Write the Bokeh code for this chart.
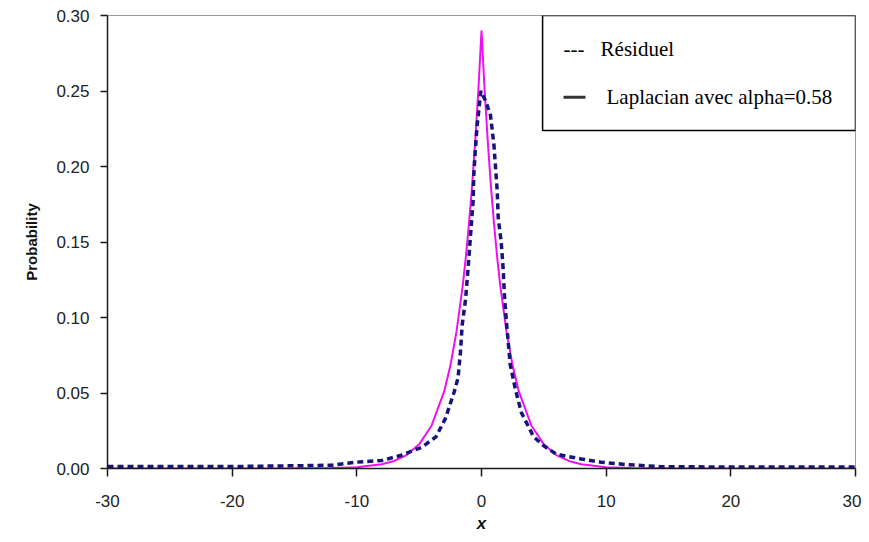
from bokeh.plotting import figure
from bokeh.models import (Range1d, FixedTicker, NumeralTickFormatter, Label, BoxAnnotation)
from bokeh.embed import file_html
from bokeh.resources import INLINE

# ---- data ----
lap_x = [-30, -20, -15, -12, -10, -8, -7, -6, -5, -4, -3, -2.5, -2, -1.5, -1.25, -1, -0.75, -0.5, -0.25, 0,
         0.25, 0.5, 0.75, 1, 1.25, 1.5, 2, 2.5, 3, 4, 5, 6, 7, 8, 10, 12, 15, 20, 30]
lap_y = [0.0, 0.0, 0.0001, 0.0003, 0.0009, 0.0028, 0.005, 0.0089, 0.016, 0.0285, 0.0509, 0.068, 0.0909, 0.1215,
         0.1405, 0.1624, 0.1877, 0.217, 0.2508, 0.29,
         0.2508, 0.217, 0.1877, 0.1624, 0.1405, 0.1215, 0.0909, 0.068, 0.0509, 0.0285, 0.016, 0.0089, 0.005,
         0.0028, 0.0009, 0.0003, 0.0001, 0.0, 0.0]

res_x = [-30, -20, -15, -12, -10, -8, -6.5, -4.8, -3.65, -2.9, -2.2, -1.88, -1.69, -1.55, -1.28, -1.1, -1.0,
         -0.83, -0.67, -0.62, -0.48, -0.35, -0.05, 0.35, 0.72, 1.0, 1.12, 1.26, 1.34, 1.58, 1.74, 1.84, 2.0,
         2.11, 2.3, 2.73, 3.2, 4.18, 5.0, 6.0, 8.0, 9.6, 11.6, 14.4, 20, 30]
res_y = [0.0013, 0.0013, 0.0018, 0.0022, 0.0042, 0.0053, 0.0086, 0.014, 0.021, 0.033, 0.0505, 0.060, 0.077,
         0.095, 0.112, 0.13, 0.141, 0.16, 0.1775, 0.194, 0.2126, 0.227, 0.25, 0.243, 0.234, 0.214, 0.2, 0.184,
         0.166, 0.150, 0.132, 0.1146, 0.097, 0.087, 0.069, 0.052, 0.037, 0.021, 0.015, 0.0095, 0.0063, 0.0042,
         0.0026, 0.0012, 0.0010, 0.0010]

x_ticks = [-30, -20, -10, 0, 10, 20, 30]
y_ticks = [0.0, 0.05, 0.10, 0.15, 0.20, 0.25, 0.30]
legend_labels = ["Résiduel", "Laplacian avec alpha=0.58"]

p = figure(width=861, height=540, output_backend="svg", toolbar_location=None,
           x_range=Range1d(-30, 30), y_range=Range1d(0, 0.30),
           min_border_left=107, min_border_right=6, min_border_top=15, min_border_bottom=72)

p.xgrid.visible = False
p.ygrid.visible = False
p.outline_line_color = "#9a9a9a"
p.outline_line_width = 1
p.background_fill_color = "white"

p.line(lap_x, lap_y, line_color="#ee10ee", line_width=2)
p.line(res_x, res_y, line_color="#14147a", line_width=3.5, line_dash="6 4")

for ax in (p.xaxis[0], p.yaxis[0]):
    ax.axis_line_color = "#1a1a1a"
    ax.axis_line_width = 1.5
    ax.major_tick_line_color = "#1a1a1a"
    ax.major_tick_line_width = 1.5
    ax.major_tick_in = 0
    ax.major_tick_out = 8
    ax.minor_tick_line_color = None
    ax.major_label_text_font = "Liberation Sans"
    ax.major_label_text_font_size = "17px"
    ax.major_label_text_color = "#222222"
    ax.axis_label_text_font = "Liberation Sans"
    ax.axis_label_text_font_style = "bold"
    ax.axis_label_text_color = "#111111"

p.xaxis.ticker = FixedTicker(ticks=x_ticks)
p.yaxis.ticker = FixedTicker(ticks=y_ticks)
p.xaxis.formatter = NumeralTickFormatter(format="0")
p.yaxis.formatter = NumeralTickFormatter(format="0.00")
p.xaxis.major_label_standoff = 18
p.yaxis.major_label_standoff = 11
p.yaxis.major_tick_out = 7

p.xaxis.axis_label = "x"
p.xaxis.axis_label_text_font_style = "bold italic"
p.xaxis.axis_label_text_font_size = "17px"
p.xaxis.axis_label_standoff = 4
p.yaxis.axis_label = "Probability"
p.yaxis.axis_label_text_font_size = "15px"
p.yaxis.axis_label_standoff = 13

# legend box (annotation)
p.add_layout(BoxAnnotation(left=4.9, right=30, bottom=0.2238, top=0.30, fill_color="white", fill_alpha=1,
                           line_color="black", line_width=1.5, line_alpha=1))
p.add_layout(Label(x=6.58, y=0.278, text="---", text_font="Liberation Serif", text_font_size="21px",
                   text_color="black", text_baseline="alphabetic"))
p.add_layout(Label(x=9.55, y=0.278, text=legend_labels[0], text_font="Liberation Serif", text_font_size="21px",
                   text_color="black", text_baseline="alphabetic"))
p.add_layout(BoxAnnotation(left=6.58, right=8.34, bottom=0.2448, top=0.2468, fill_color="#333333", fill_alpha=1,
                           line_color=None))
p.add_layout(Label(x=10.03, y=0.2457, text=legend_labels[1], text_font="Liberation Serif", text_font_size="21px",
                   text_color="black", text_baseline="alphabetic"))

open("out.html", "w").write(file_html(p, INLINE))
